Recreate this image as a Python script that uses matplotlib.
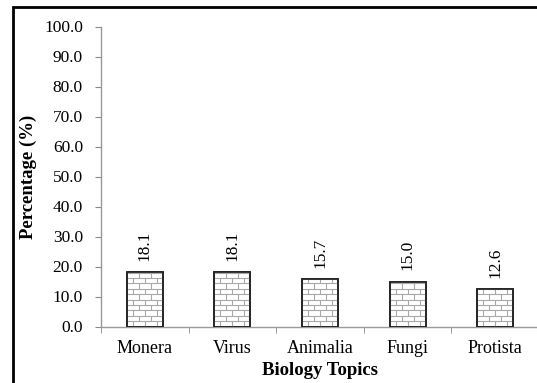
import matplotlib
matplotlib.use("Agg")
import matplotlib.pyplot as plt
from matplotlib.patches import Rectangle
from matplotlib.collections import LineCollection

topics = ["Monera", "Virus", "Animalia", "Fungi", "Protista"]
percentages = [18.1, 18.1, 15.7, 15.0, 12.6]
y_ticks = [0, 10, 20, 30, 40, 50, 60, 70, 80, 90, 100]

plt.rcParams['font.family'] = ['Liberation Serif', 'DejaVu Serif']

fig = plt.figure(figsize=(5.37, 3.83), dpi=100)
ax = fig.add_axes([101 / 537, 1 - 326.5 / 383, 438 / 537, 300 / 383])

x = range(len(topics))
bar_w = 0.41
bars = ax.bar(x, percentages, width=bar_w, color='white', edgecolor='#222222',
              linewidth=1.2, zorder=2)

# brick texture inside each bar
row_h = 1.8
for b in bars:
    x0, w, h = b.get_x(), b.get_width(), b.get_height()
    brick = w / 3
    segs = []
    y = 0.0
    row = 0
    while y < h:
        y_top = min(y + row_h, h)
        segs.append([(x0, y_top), (x0 + w, y_top)])
        off = 0 if row % 2 == 0 else brick / 2
        xv = x0 + off + brick / 2
        while xv < x0 + w:
            segs.append([(xv, y), (xv, y_top)])
            xv += brick
        y += row_h
        row += 1
    lc = LineCollection(segs, colors='#a8a8a8', linewidths=0.8, zorder=2.5)
    ax.add_collection(lc)
    lc.set_clip_path(b)
    # redraw the outline on top
    ax.add_patch(Rectangle((x0, 0), w, h, fill=False, edgecolor='#222222',
                           linewidth=1.2, zorder=3))

for xi, val in zip(x, percentages):
    ax.annotate(f"{val:.1f}", (xi, val), xytext=(0, 8), textcoords='offset points',
                rotation=90, ha='center', va='bottom', fontsize=12.5)

ax.set_xlim(-0.5, len(topics) - 0.5)
ax.set_ylim(0, 100)
ax.set_yticks(y_ticks)
ax.set_yticklabels([f"{t:.1f}" for t in y_ticks], fontsize=12.5)
ax.set_xticks(list(x))
ax.set_xticklabels(topics, fontsize=13)
ax.set_xticks([i - 0.5 for i in range(len(topics) + 1)], minor=True)
ax.tick_params(axis='x', which='major', length=0, pad=10)
ax.tick_params(axis='x', which='minor', length=4, color='#888888', direction='out')
ax.tick_params(axis='y', length=4, color='#888888', direction='out', pad=9)

for side in ['top', 'right']:
    ax.spines[side].set_visible(False)
for side in ['left', 'bottom']:
    ax.spines[side].set_color('#999999')
    ax.spines[side].set_linewidth(1.0)

ax.set_ylabel("Percentage (%)", fontsize=13.5, fontweight='bold', labelpad=5)
ax.set_xlabel("Biology Topics", fontsize=13.5, fontweight='bold', labelpad=3)

# outer frame around the chart area
frame = Rectangle((13 / 537, -0.1), 2, 1 - 7 / 383 + 0.1, transform=fig.transFigure,
                  fill=False, edgecolor='black', linewidth=2, clip_on=False)
fig.patches.append(frame)

fig.savefig("out.png", dpi=100)
